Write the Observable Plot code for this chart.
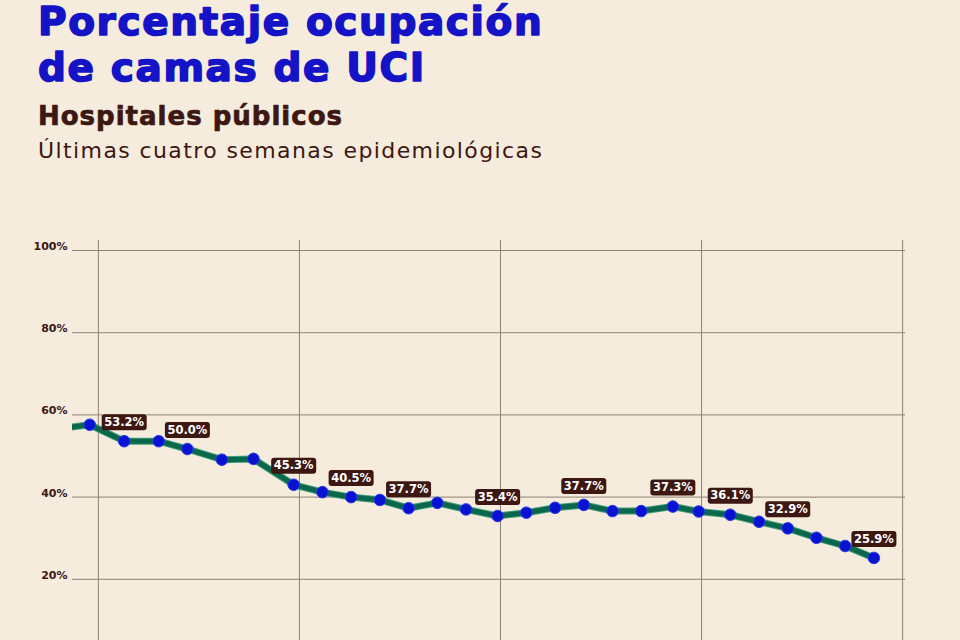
<!DOCTYPE html>
<html>
<head>
<meta charset="utf-8">
<script src="https://cdn.jsdelivr.net/npm/d3@7"></script>
<script src="https://cdn.jsdelivr.net/npm/@observablehq/plot@0.6"></script>
<style>
  html, body { margin: 0; padding: 0; background: #f5ecdd; width: 960px; height: 640px; overflow: hidden; }
  #header { position: absolute; left: 0; top: 0; }
  #chart { position: absolute; left: 0; top: 230px; }
</style>
</head>
<body>
<svg id="header" width="960" height="230">
  <text x="38" y="35" font-family="DejaVu Sans" font-weight="bold" font-size="39" letter-spacing="1.6" fill="#1414c6" stroke="#1414c6" stroke-width="1.6" stroke-linejoin="round">Porcentaje ocupación</text>
  <text x="38" y="81" font-family="DejaVu Sans" font-weight="bold" font-size="39" letter-spacing="1.6" fill="#1414c6" stroke="#1414c6" stroke-width="1.6" stroke-linejoin="round">de camas de UCI</text>
  <text x="38" y="125" font-family="DejaVu Sans" font-weight="bold" font-size="26" letter-spacing="1" fill="#3d1711" stroke="#3d1711" stroke-width="0.7" stroke-linejoin="round">Hospitales públicos</text>
  <text x="38" y="158" font-family="DejaVu Sans" font-size="22" letter-spacing="1.4" fill="#3d1711">Últimas cuatro semanas epidemiológicas</text>
</svg>
<div id="chart"></div>
<script>
// Day position of each reading (the first one only continues the line from the left edge)
const dias = [-1, -0.3, 0.9, 2.1, 3.1, 4.3, 5.4, 6.8, 7.8, 8.8, 9.8, 10.8, 11.8, 12.8, 13.9, 14.9, 15.9, 16.9, 17.9, 18.9, 20.0, 20.9, 22.0, 23.0, 24.0, 25.0, 26.0, 27.0];
// Occupancy (%)
const ocupacion = [57.0, 57.6, 53.6, 53.6, 51.7, 49.1, 49.3, 43.0, 41.2, 40.0, 39.3, 37.3, 38.6, 37.0, 35.4, 36.2, 37.4, 38.1, 36.6, 36.6, 37.7, 36.5, 35.7, 34.0, 32.4, 30.1, 28.1, 25.2];
// Label text shown above selected points
const etiquetas = ["", "", "53.2%", "", "50.0%", "", "", "45.3%", "", "40.5%", "", "37.7%", "", "", "35.4%", "", "", "37.7%", "", "", "37.3%", "", "36.1%", "", "32.9%", "", "", "25.9%"];
// Leading readings drawn only as line (no dot)
const soloLinea = 1;
// Axis ticks
const yTicks = [20, 40, 60, 80, 100];
const semanas = [0, 7, 14, 21, 28];

const datos = dias.map((d, i) => ({dia: d, valor: ocupacion[i], etiqueta: etiquetas[i], punto: i >= soloLinea}));
const puntos = datos.filter(d => d.punto);
const conEtiqueta = datos.filter(d => d.etiqueta !== "");

const grid = "#8e8073";
const brown = "#3d1711";

const caja = {
  draw(ctx) {
    const w = 22.5, h = 8, r = 3;
    ctx.moveTo(-w + r, -h);
    ctx.lineTo(w - r, -h);
    ctx.arcTo(w, -h, w, -h + r, r);
    ctx.lineTo(w, h - r);
    ctx.arcTo(w, h, w - r, h, r);
    ctx.lineTo(-w + r, h);
    ctx.arcTo(-w, h, -w, h - r, r);
    ctx.lineTo(-w, -h + r);
    ctx.arcTo(-w, -h, -w + r, -h, r);
    ctx.closePath();
  }
};

const chart = Plot.plot({
  width: 960,
  height: 410,
  marginTop: 10,
  marginBottom: 0,
  marginLeft: 72,
  marginRight: 55,
  style: {background: "transparent", fontFamily: "DejaVu Sans", overflow: "visible"},
  x: {domain: [-0.9, 28.1], axis: null},
  y: {domain: [0, 100], range: [431, 20], axis: null},
  marks: [
    Plot.ruleY(yTicks, {stroke: grid, strokeWidth: 1}),
    Plot.ruleX(semanas, {stroke: grid, strokeWidth: 1}),
    Plot.axisY(yTicks, {label: null, tickSize: 0, tickPadding: 5, tickFormat: d => d + "%", fontWeight: "bold", fontSize: 11, fill: brown, dy: -4}),
    Plot.line(datos, {x: "dia", y: "valor", stroke: "#3f9c7a", strokeWidth: 7, clip: true}),
    Plot.line(datos, {x: "dia", y: "valor", stroke: "#0b674b", strokeWidth: 5, clip: true}),
    Plot.dot(puntos, {x: "dia", y: "valor", r: 5.8, fill: "#0a12d2", stroke: "#2a3ae6", strokeWidth: 1}),
    Plot.dot(conEtiqueta, {x: "dia", y: "valor", dy: -19, symbol: caja, fill: brown, stroke: "none"}),
    Plot.text(conEtiqueta, {x: "dia", y: "valor", text: "etiqueta", dy: -19, fill: "white", fontSize: 11.5, fontWeight: "bold"})
  ]
});
document.getElementById("chart").appendChild(chart);
</script>
</body>
</html>
